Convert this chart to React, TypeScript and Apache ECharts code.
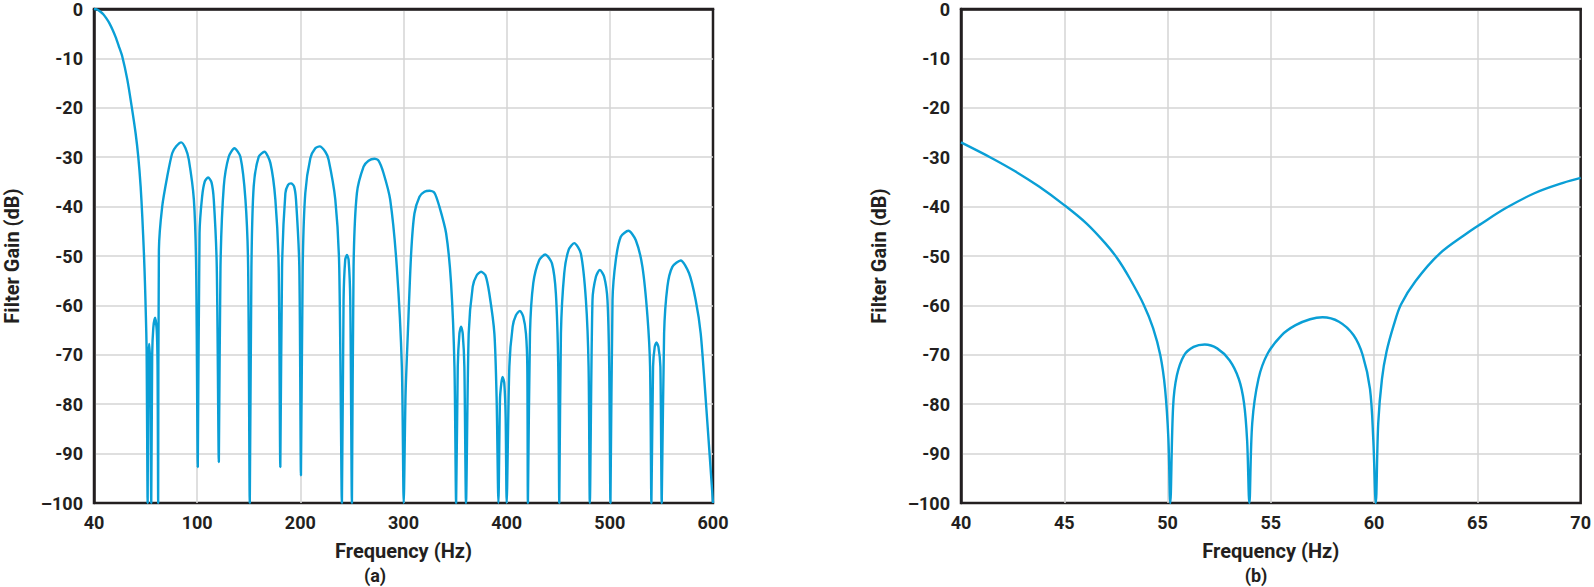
import React, { useEffect, useRef } from "react";
import * as echarts from "echarts";

// Panel (a): frequency (Hz, leftmost position = 0 Hz, labelled "40") and filter gain (dB)
const freqA: number[] = [
  0, 3, 6, 9, 12, 15, 18, 21, 24, 27.4, 32.3, 36.5, 40.3, 42.9, 45.2, 46.8, 48.4, 49.4, 50.3, 51.0, 52.0,
  52.6, 53.5, 54.4, 55.5,
  56.4, 57.5, 59.2, 60.8, 61.6, 62.2,
  62.9, 66.1, 71.0, 75.8, 79.7, 84.5, 88.7, 91.9, 96.8, 99.0, 100.6,
  102.3, 104.8, 107.4, 110.6, 113.9, 116.1, 119.0, 121.0,
  122.6, 125.8, 130.6, 136.1, 141.9, 146.8, 149.4, 151.0,
  152.6, 154.8, 159.7, 165.2, 171.0, 175.8, 179.0, 180.6,
  182.3, 185.5, 188.1, 191.0, 193.9, 195.8, 199.0, 200.6,
  202.3, 204.8, 209.7, 214.5, 218.7, 224.2, 227.4, 233.9, 237.7, 240.3,
  241.9, 243.5, 245.2, 246.8, 248.4, 250.0,
  251.6, 254.8, 261.3, 266.1, 271.9, 275.8, 280.6, 287.1, 293.5, 298.4, 300.2,
  302.0, 304.2, 307.4, 310.6, 315.5, 320.3, 325.2, 330.0, 334.8, 341.3, 346.1, 349.4, 351.0,
  352.6, 354.2, 355.8, 357.4, 359.0, 360.6,
  363.2, 367.1, 371.0, 375.2, 379.4, 383.2, 388.1, 390.3, 392.0,
  393.5, 394.8, 396.1, 397.7, 399.0, 400.0,
  402.6, 405.8, 409.0, 412.9, 416.1, 418.7, 420.0, 420.6,
  422.6, 425.8, 431.6, 437.4, 443.9, 447.7, 450.0, 451.0,
  452.6, 455.8, 460.0, 465.5, 471.9, 476.8, 479.4, 480.6,
  483.2, 486.5, 490.3, 494.5, 497.7, 499.4, 500.6,
  502.6, 505.8, 510.6, 518.0, 525.2, 531.6, 536.5, 539.0, 540.3,
  541.9, 543.5, 545.2, 547.1, 549.0, 550.3,
  552.6, 555.8, 560.6, 568.7, 576.8, 583.2, 588.1, 593.0, 600.0,
];
const gainA: number[] = [
  0, -0.1, -0.5, -1.05, -1.9, -2.9, -4.2, -5.7, -7.5, -9.6, -14.3, -19.7, -25.1, -29.9, -35.9, -42.0, -49.5, -55.5, -62.3, -69.0, -100,
  -72.0, -67.8, -72.0, -100,
  -70.0, -64.5, -62.5, -65.0, -72.0, -100,
  -48.8, -40.0, -33.9, -29.2, -27.8, -27.0, -28.2, -30.5, -38.6, -52.2, -92.7,
  -45.4, -38.0, -34.9, -34.1, -35.1, -38.6, -52.2, -91.7,
  -52.2, -35.9, -29.9, -28.2, -29.9, -38.6, -52.2, -100,
  -52.2, -35.9, -29.9, -28.9, -31.2, -38.6, -52.2, -92.7,
  -52.2, -37.3, -35.6, -35.3, -35.9, -38.6, -52.2, -94.4,
  -52.2, -37.3, -30.2, -28.2, -27.8, -28.9, -30.5, -38.6, -52.2, -100,
  -59.0, -50.8, -49.8, -50.8, -59.0, -100,
  -52.2, -37.3, -31.9, -30.7, -30.3, -30.7, -33.2, -38.6, -52.2, -72.4, -100,
  -78.0, -65.7, -49.5, -41.4, -38.0, -37.0, -36.8, -37.2, -40.0, -45.4, -55.5, -72.4, -100,
  -72.4, -65.7, -64.3, -65.7, -72.4, -100,
  -65.7, -56.2, -53.9, -53.2, -53.9, -57.6, -65.7, -79.2, -100,
  -79.2, -75.8, -74.5, -75.8, -82.6, -100,
  -72.4, -64.3, -62.0, -61.1, -62.3, -65.7, -72.4, -100,
  -65.7, -55.5, -50.8, -49.7, -51.5, -57.6, -72.4, -100,
  -65.7, -53.5, -48.8, -47.4, -49.5, -58.9, -72.4, -100,
  -58.9, -54.2, -52.8, -54.2, -58.9, -72.4, -100,
  -58.9, -50.8, -46.1, -44.9, -46.8, -52.2, -62.3, -72.4, -100,
  -72.4, -68.4, -67.5, -68.4, -72.4, -100,
  -65.7, -56.2, -52.2, -50.9, -53.5, -58.9, -65.7, -79.2, -100,
];

// Panel (b): zoom 40..70 Hz
const freqB: number[] = [
  40, 41.45, 42.6, 43.76, 45.0, 46.07, 47.0, 47.57, 48.15, 48.84, 49.3, 49.65, 49.88, 50.04, 50.13,
  50.27, 50.45, 50.8, 51.26, 51.8, 52.4, 53.0, 53.45, 53.7, 53.85, 53.96,
  54.1, 54.4, 54.84, 55.53, 56.2, 56.9, 57.5, 58.3, 59.0, 59.45, 59.8, 59.96, 60.08,
  60.2, 60.38, 60.6, 60.95, 61.3, 62.0, 63.15, 64.53, 65.1, 66.38, 67.76, 69.15, 70,
];
const gainB: number[] = [
  -27.0, -30.1, -32.8, -35.9, -39.7, -43.4, -47.5, -50.5, -54.4, -59.8, -64.6, -70.1, -76.9, -87.0, -100,
  -80.4, -74.2, -70.1, -68.4, -67.9, -68.7, -71.1, -74.9, -79.7, -87.2, -100,
  -83.8, -74.9, -69.8, -66.0, -64.0, -62.8, -62.4, -63.3, -66.0, -70.1, -76.9, -87.2, -100,
  -83.8, -74.9, -69.4, -64.0, -59.8, -55.1, -49.6, -45.3, -43.7, -40.3, -37.3, -35.2, -34.2,
];

const xTicksA: number[] = [0, 100, 200, 300, 400, 500, 600];
const xTickLabelsA: string[] = ["40", "100", "200", "300", "400", "500", "600"];
const yAxisTitle = "Filter Gain (dB)";
const xAxisTitle = "Frequency (Hz)";
const captions: string[] = ["(a)", "(b)"];

const INK = "#231f20";
const LINE = "#0a9fd6";
const FONT = "Roboto, 'Noto Sans', sans-serif";

export default function App() {
  const ref = useRef<HTMLDivElement>(null);

  useEffect(() => {
    if (!ref.current) return;
    const chart = echarts.init(ref.current, undefined, { renderer: "svg" });

    const grids = [
      { left: 94, top: 8, width: 619, height: 495 },
      { left: 961, top: 8, width: 620, height: 495 },
    ];
    const captionX = [375, 1256];

    const yFmt = (v: number) => (v === -100 ? "\u2013100" : String(v));
    const nameStyle = { color: INK, fontFamily: FONT, fontWeight: "bold", fontSize: 20 };
    const split = { show: true, showMinLine: false, showMaxLine: false, lineStyle: { color: "#d4d4d4", width: 1.5 } };

    const makeY = (gi: number) => ({
      type: "value",
      gridIndex: gi,
      min: -100,
      max: 0,
      interval: 10,
      name: yAxisTitle,
      nameLocation: "middle",
      nameGap: 72,
      nameTextStyle: nameStyle,
      axisLine: { show: true, lineStyle: { color: INK, width: 2.5 } },
      axisTick: { show: false },
      axisLabel: { color: INK, fontFamily: FONT, fontWeight: "bold", fontSize: 18, margin: 11, formatter: yFmt },
      splitLine: split,
    });

    const option = {
      animation: false,
      backgroundColor: "#ffffff",
      grid: grids.map((g) => ({
        ...g,
        show: true,
        borderColor: INK,
        borderWidth: 2.5,
        backgroundColor: "transparent",
        containLabel: false,
      })),
      xAxis: [
        {
          type: "value",
          gridIndex: 0,
          min: 0,
          max: 600,
          interval: 100,
          name: xAxisTitle,
          nameLocation: "middle",
          nameGap: 38,
          nameTextStyle: nameStyle,
          axisLine: { show: true, lineStyle: { color: INK, width: 2.5 } },
          axisTick: { show: false },
          axisLabel: {
            color: INK,
            fontFamily: FONT,
            fontWeight: "bold",
            fontSize: 18,
            margin: 10,
            formatter: (v: number) => {
              const i = xTicksA.indexOf(v);
              return i >= 0 ? xTickLabelsA[i] : String(v);
            },
          },
          splitLine: split,
        },
        {
          type: "value",
          gridIndex: 1,
          min: 40,
          max: 70,
          interval: 5,
          name: xAxisTitle,
          nameLocation: "middle",
          nameGap: 38,
          nameTextStyle: nameStyle,
          axisLine: { show: true, lineStyle: { color: INK, width: 2.5 } },
          axisTick: { show: false },
          axisLabel: { color: INK, fontFamily: FONT, fontWeight: "bold", fontSize: 18, margin: 10 },
          splitLine: split,
        },
      ],
      yAxis: [makeY(0), makeY(1)],
      series: [
        {
          type: "line",
          xAxisIndex: 0,
          yAxisIndex: 0,
          showSymbol: false,
          symbol: "none",
          smooth: 0.25,
          lineStyle: { color: LINE, width: 2.4 },
          data: freqA.map((f, i) => [f, gainA[i]]),
          z: 3,
        },
        {
          type: "line",
          xAxisIndex: 1,
          yAxisIndex: 1,
          showSymbol: false,
          symbol: "none",
          smooth: 0.35,
          lineStyle: { color: LINE, width: 2.4 },
          data: freqB.map((f, i) => [f, gainB[i]]),
          z: 3,
        },
      ],
      graphic: captions.map((c, i) => ({
        type: "text",
        x: captionX[i],
        y: 575,
        style: { text: c, fill: INK, font: `bold 18px ${FONT}`, align: "center", verticalAlign: "middle" },
      })),
    };

    chart.setOption(option as any);
    return () => chart.dispose();
  }, []);

  return (
    <div
      ref={ref}
      style={{ position: "fixed", left: 0, top: 0, width: 1594, height: 587, background: "#fff" }}
    />
  );
}
